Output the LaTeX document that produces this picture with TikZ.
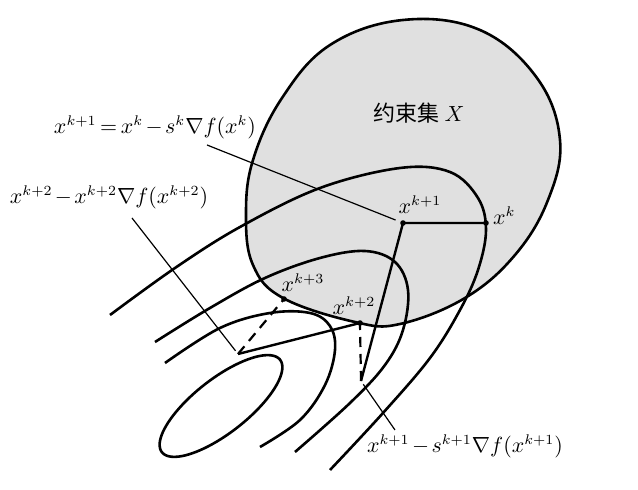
\documentclass[tikz,border=0pt]{standalone}
\usepackage{fontspec}
\newfontfamily\cjk{Noto Sans CJK SC}
\medmuskip=2mu
\thickmuskip=3mu
\begin{document}
\begin{tikzpicture}[x=0.5pt,y=-0.5pt,
    level/.style={line width=1.3pt},
    iter/.style={line width=1.2pt},
    proj/.style={line width=1.1pt, dash pattern=on 5pt off 3.5pt},
    lead/.style={line width=0.6pt},
    lbl/.style={font=\fontsize{10.5}{12}\selectfont}]
    \useasboundingbox (0,0) rectangle (638,490);
    % Draw the constraint set
    \filldraw[fill=black!12, level] plot[smooth cycle, tension=0.65] coordinates {
        (253,160) (282,98) (330,45) (403,20) (480,30) (537,78) (560,140)
        (548,200) (515,255) (465,298) (400,324) (355,322) (283,298)
        (253,265) (246,215)};
    \node[font=\cjk\fontsize{11}{13}\selectfont] (setX) at (419,113) {约束集 $X$};

    % Draw level sets of f
    \draw[level] plot[domain=0:360, samples=90]
        ({221+59.1*cos(\x)+16.6*sin(\x)}, {406-46.2*cos(\x)+21.3*sin(\x)}) -- cycle;
    \draw[level] plot[smooth, tension=0.6] coordinates {
        (165,363) (220,328) (270,313) (310,313) (330,326) (335,350)
        (325,385) (300,420) (260,447)};
    \draw[level] plot[smooth, tension=0.6] coordinates {
        (155,342) (210,308) (265,278) (320,258) (365,251) (395,262)
        (408,290) (403,330) (385,365) (350,403) (295,452)};
    \draw[level] plot[smooth, tension=0.6] coordinates {
        (110,315) (175,268) (240,227) (320,188) (400,168) (450,172)
        (478,198) (486,230) (478,270) (460,310) (430,358) (383,413)
        (330,470)};

    % Iterates
    \coordinate (x_k) at (486,223);
    \coordinate (x_k1) at (403,223);
    \coordinate (y_k1) at (361,381);
    \coordinate (x_k2) at (360,323);
    \coordinate (y_k2) at (238,354);
    \coordinate (x_k3) at (284,299);

    \draw[iter] (x_k) -- (x_k1) -- (y_k1);
    \draw[proj] (y_k1) -- (x_k2);
    \draw[iter] (x_k2) -- (y_k2);
    \draw[proj] (y_k2) -- (x_k3);
    \foreach \p in {x_k,x_k1,x_k2,x_k3}
        \fill[black] (\p) circle (2.8);

    \node[lbl, anchor=west] (l_k) at (486,216) {$x^k$};
    \node[lbl] (l_k1) at (420,205) {$x^{k+1}$};
    \node[lbl] (l_k2) at (354,306) {$x^{k+2}$};
    \node[lbl] (l_k3) at (303,283) {$x^{k+3}$};

    % Formulas and their leaders
    \node[lbl] (eq1) at (155,127) {$x^{k+1}=x^k-s^k\nabla f(x^k)$};
    \node[lbl] (eq2) at (109,197) {$x^{k+2}-x^{k+2}\nabla f(x^{k+2})$};
    \node[lbl] (eq3) at (465,446) {$x^{k+1}-s^{k+1}\nabla f(x^{k+1})$};
    \coordinate (e_1) at (207,145);
    \coordinate (e_2) at (132,218);
    \coordinate (e_3) at (395,430);
    \draw[lead, shorten >=4pt] (e_1) -- (x_k1);
    \draw[lead, shorten >=2pt] (e_2) -- (y_k2);
    \draw[lead, shorten <=2pt] (y_k1) -- (e_3);
\end{tikzpicture}
\end{document}
